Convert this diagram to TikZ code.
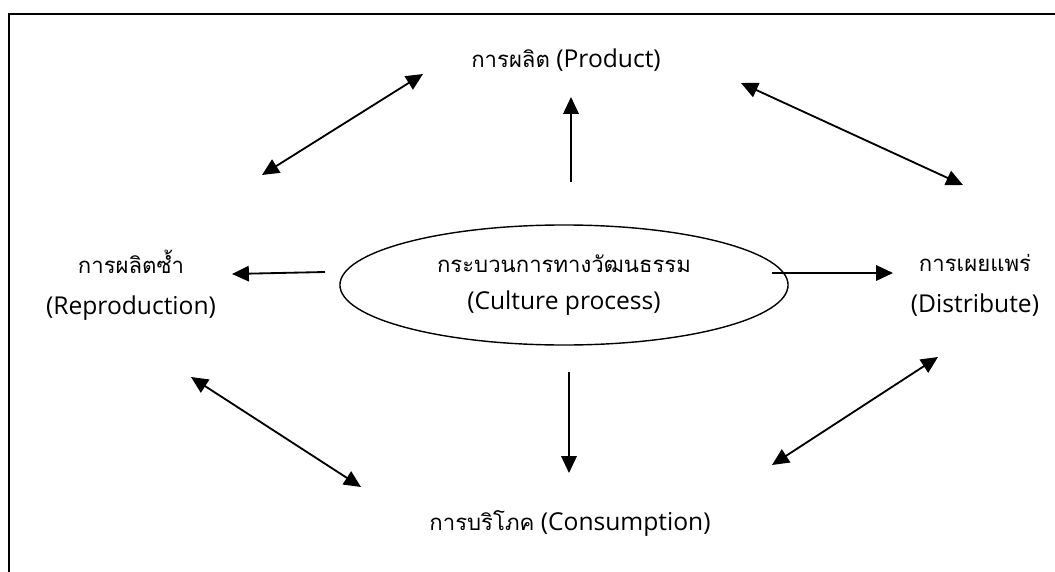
\documentclass[tikz,border=0pt]{standalone}
\usepackage{fontspec}
\setmainfont{Open Sans}
\newfontfamily\thaifont[Script=Thai,Scale=0.9]{Loma}
\usetikzlibrary{arrows.meta,shapes.geometric}

\tikzset{
	label/.style={align=center, inner sep=0pt, font=\fontsize{17.5}{29}\selectfont},
	link/.style={line width=1.3pt, -{Triangle[length=12pt,width=11pt]}},
	twoway/.style={line width=1.3pt, {Triangle[length=12pt,width=11pt]}-{Triangle[length=12pt,width=11pt]}},
}

\begin{document}
\begin{tikzpicture}[x=0.025cm, y=-0.025cm]
			\def\FrameWidth{1.8pt}
			\useasboundingbox (0,0) rectangle (1055,572);
			% frame, only left and top edge
			\draw[line width=\FrameWidth] (9,572) -- (9,14) -- (1055,14);

			% the five nodes
			\node[draw, ellipse, line width=1pt, minimum width=11.2cm, minimum height=3cm,
				label, font=\fontsize{17.5}{26}\selectfont] (process) at (564,285)
				{{\thaifont กระบวนการทางวัฒนธรรม}\\(Culture process)};
			\node[label] (product) at (566,60) {{\thaifont การผลิต} (Product)};
			\node[label] (reprod) at (131,285) {{\thaifont การผลิตซ้ำ}\\(Reproduction)};
			\node[label] (distrib) at (975,285) {{\thaifont การเผยแพร่}\\(Distribute)};
			\node[label] (consum) at (570,523) {{\thaifont การบริโภค} (Consumption)};

			% arrow ends
			\coordinate (up1) at (571,182);
			\coordinate (up2) at (571,97);
			\coordinate (dn1) at (569,372);
			\coordinate (dn2) at (569,473);
			\coordinate (lf1) at (325,272);
			\coordinate (lf2) at (232,274);
			\coordinate (rt1) at (772,273);
			\coordinate (rt2) at (893,273);
			\coordinate (nw1) at (262,175);
			\coordinate (nw2) at (423,74);
			\coordinate (ne1) at (741,83);
			\coordinate (ne2) at (963,185);
			\coordinate (sw1) at (191,377);
			\coordinate (sw2) at (361,487);
			\coordinate (se1) at (772,465);
			\coordinate (se2) at (938,357);

			% one way
			\foreach \a in {up,dn,lf,rt}
				\draw[link] (\a1) -- (\a2);
			% both ways
			\foreach \a in {nw,ne,sw,se}
				\draw[twoway] (\a1) -- (\a2);
		\end{tikzpicture}
\end{document}
